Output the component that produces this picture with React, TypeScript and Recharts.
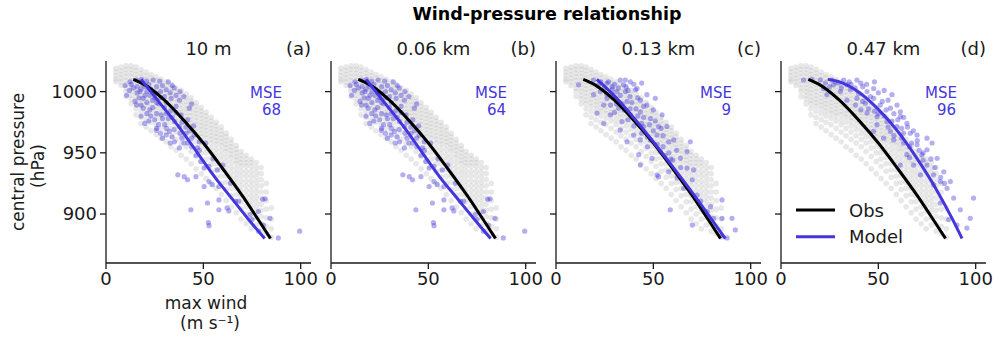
import React from "react";
import { ScatterChart, Scatter, XAxis, YAxis } from "recharts";

const FONT = "'DejaVu Sans', Verdana, sans-serif";
const BLUE = "#4436dc";
const INK = "#1a1a1a";

const PANEL_TITLES = ["10 m", "0.06 km", "0.13 km", "0.47 km"];
const PANEL_TAGS = ["(a)", "(b)", "(c)", "(d)"];
const PANEL_MSE = [68, 64, 9, 96];
const X_TICKS = [0, 50, 100];
const Y_TICKS = [900, 950, 1000];

// observed storms: wind column (m/s) -> central pressures (hPa)
const OBS_COLUMNS: [number, number[]][] = [
  [5.1, [1019, 1016, 1013, 1010, 1008]],
  [7.7, [1020, 1017, 1014, 1011, 1008, 1005]],
  [10.3, [1021, 1018, 1015, 1012, 1009, 1006, 1003, 1000, 996]],
  [12.9, [1021, 1018, 1015, 1012, 1009, 1006, 1003, 1000, 997, 994, 990]],
  [15.4, [1020, 1017, 1014, 1011, 1008, 1005, 1002, 999, 996, 993, 990, 986, 981]],
  [18.0, [1018, 1015, 1012, 1009, 1006, 1003, 1000, 997, 994, 991, 988, 984, 979, 974]],
  [20.6, [1016, 1013, 1010, 1007, 1004, 1001, 998, 995, 992, 989, 986, 982, 977, 971]],
  [23.1, [1014, 1011, 1008, 1005, 1002, 999, 996, 993, 990, 987, 984, 980, 975, 968]],
  [25.7, [1012, 1009, 1006, 1003, 1000, 997, 994, 991, 988, 985, 982, 978, 973, 965]],
  [28.3, [1010, 1007, 1004, 1001, 998, 995, 992, 989, 986, 983, 980, 976, 970, 962]],
  [30.9, [1008, 1005, 1002, 999, 996, 993, 990, 987, 984, 981, 977, 973, 967, 959]],
  [33.4, [1006, 1003, 1000, 997, 994, 991, 988, 985, 982, 979, 975, 970, 964, 955]],
  [36.0, [1003, 1000, 997, 994, 991, 988, 985, 982, 979, 976, 972, 967, 961, 952]],
  [38.6, [1001, 998, 995, 992, 989, 986, 983, 980, 977, 973, 969, 964, 958, 948]],
  [41.2, [998, 995, 992, 989, 986, 983, 980, 977, 974, 970, 966, 961, 955, 945]],
  [43.7, [995, 992, 989, 986, 983, 980, 977, 974, 971, 967, 963, 958, 951, 941]],
  [46.3, [991, 988, 985, 982, 979, 976, 973, 970, 967, 963, 959, 954, 947, 937]],
  [48.9, [987, 984, 981, 978, 975, 972, 969, 966, 963, 959, 955, 950, 943, 933]],
  [51.4, [983, 980, 977, 974, 971, 968, 965, 962, 958, 954, 950, 945, 939, 929]],
  [54.0, [979, 976, 973, 970, 967, 964, 961, 958, 954, 950, 946, 941, 935, 925]],
  [56.6, [975, 972, 969, 966, 963, 960, 957, 953, 949, 945, 941, 936, 930, 921]],
  [59.2, [971, 968, 965, 962, 959, 956, 952, 948, 944, 940, 936, 931, 925, 916]],
  [61.7, [966, 963, 960, 957, 954, 951, 947, 943, 939, 935, 931, 926, 920, 911]],
  [64.3, [961, 958, 955, 952, 949, 946, 942, 938, 934, 930, 926, 921, 915, 906]],
  [66.9, [956, 953, 950, 947, 944, 941, 937, 933, 929, 925, 921, 916, 910, 901]],
  [69.4, [951, 948, 945, 942, 939, 935, 931, 927, 923, 919, 915, 910, 904, 896]],
  [72.0, [948, 945, 942, 939, 935, 931, 927, 923, 919, 915, 911, 906, 900, 892]],
  [74.6, [945, 942, 939, 935, 931, 927, 923, 919, 915, 911, 907, 902, 896, 888]],
  [77.2, [942, 938, 934, 930, 926, 922, 918, 914, 910, 906, 902, 897, 891]],
  [79.7, [938, 933, 928, 923, 918, 913, 908, 903, 898, 892, 886]],
  [82.3, [925, 918, 911, 904, 897, 890, 884]],
  [84.9, [905, 896, 888, 881]],
];

// model storms, [wind, pressure]
const MODEL_10M: [number, number][] = [
  [9.8, 1005], [12.3, 1008], [15.7, 1009.5], [18.3, 1010], [20.8, 1008.5], [24.2, 1009.5], [27.6, 1008.5],
  [14, 1003], [17.4, 1000], [10.6, 997], [14.9, 992], [19.1, 994.5], [22.5, 997], [25.9, 998.5],
  [30.9, 1001.5], [33.5, 994.5], [37.7, 993], [15.7, 989], [19.1, 986.5], [22.5, 985], [19.9, 974],
  [25, 977], [28.4, 981], [30.1, 973], [25.9, 968.5], [30.9, 964.5], [32.6, 967.5], [35.2, 975.5],
  [38.6, 981], [42, 977], [42.8, 986.5], [37.7, 971.5], [41.1, 966], [35.2, 959], [37.7, 954],
  [42, 958], [45.3, 964.5], [47.9, 959], [51.2, 958], [46.2, 948], [48.7, 943], [50.4, 937.5],
  [40.2, 930.5], [41.9, 928], [46.2, 930.5], [52.9, 939], [57.2, 936], [52.9, 926.5], [58, 922.5],
  [63.9, 925], [52.1, 909], [58, 911.5], [58, 903.5], [62.2, 905], [43.6, 903.5], [52.6, 893],
  [52.9, 890.5], [66.5, 910.5], [74.1, 899.5], [75, 895.5], [78.3, 902], [81.7, 912.5], [84.2, 896.5],
  [80.9, 891], [78.3, 886], [88.5, 880.5], [99.5, 886], [68.2, 910.5], [80.5, 912], [63.1, 902.5],
  [36.9, 932], [50.4, 922.5], [54.6, 924], [20, 1004], [23, 1002], [26, 1004], [29, 1005], [32, 1008],
  [35, 1003], [21, 991], [24, 993], [27, 990], [30, 987], [33, 984], [36, 988], [40, 996], [44, 990],
  [28, 995], [17, 995], [23, 980], [27, 973], [32, 978], [35, 969], [39, 962], [44, 955], [48, 952],
  [55, 945], [60, 940], [45, 972], [33, 958], [29, 962],
  [12, 1001], [13, 1006], [16, 1004], [18, 1002], [19, 1006], [21, 1000], [22, 1006], [24, 1000],
  [25, 995], [26, 991], [28, 1000], [30, 996], [31, 991], [33, 999], [34, 1005], [36, 997], [38, 1000],
  [20, 997], [16, 999], [18, 989], [21, 982], [24, 987], [26, 982], [29, 978], [31, 982], [34, 979],
  [36, 983], [39, 975], [41, 971], [43, 968], [18, 980], [22, 976], [26, 970], [28, 966], [31, 970],
  [34, 963], [38, 966], [40, 958], [44, 962], [47, 954],
];

const MODEL_013KM: [number, number][] = [
  [11.6, 1005.5], [19.3, 1009.5], [26.2, 1007], [33, 1009.5], [35.6, 1009.5], [28.8, 1004], [31.3, 1000],
  [22.8, 1000], [19.3, 997.5], [26.2, 994.5], [35.6, 1000], [40.8, 1001.5], [36.5, 992], [32.2, 986.5],
  [24.5, 989], [21.1, 982.5], [24.5, 974], [27.9, 981], [33.9, 975.5], [38.2, 981], [43.3, 983.5],
  [46.7, 989], [48.5, 978], [54.5, 981], [52.7, 971.5], [45, 971.5], [39.9, 964.5], [33, 968.5],
  [36.5, 959], [43.3, 960.5], [42.5, 948.5], [48.5, 960.5], [51.9, 964.5], [57, 971.5], [57.9, 959],
  [60.5, 960.5], [53.6, 951], [49.3, 945.5], [43.3, 940], [51.9, 932], [57.9, 934.5], [63.9, 945.5],
  [67.3, 951], [69, 959], [67.3, 937.5], [70.7, 936], [52.7, 930.5], [62.2, 929.5], [65.6, 921],
  [70, 928], [72.5, 915.5], [74.3, 910.5], [79.4, 906], [85.3, 911.5], [58.7, 903.5], [70, 891],
  [81, 896.5], [85.3, 896.5], [90.4, 896.5], [92.1, 887], [87.9, 880.5], [84.5, 882], [77.7, 902],
  [34.7, 1005.5], [38.2, 1008], [41.6, 1002.5], [46.7, 997.5], [51, 994.5], [43.3, 993], [30.5, 994.5],
  [23, 1008], [29, 1002], [38, 996], [34, 990], [41, 986], [30, 983], [37, 977], [44, 974], [50, 968],
  [55, 964], [47, 955], [56, 948], [60, 944], [64, 938], [62, 952], [50, 985], [28, 989],
  [22, 1006], [25, 1003], [27, 1008], [30, 1006], [32, 1003], [36, 1004], [40, 1006], [44, 1007],
  [26, 998], [29, 998], [33, 997], [37, 1001], [39, 991], [42, 995], [45, 988], [31, 990], [35, 985],
  [38, 986], [42, 980], [45, 979], [48, 973], [51, 976], [54, 970], [40, 972], [44, 966], [47, 963],
  [52, 957], [55, 955], [58, 950], [59, 945],
];

const MODEL_047KM: [number, number][] = [
  [11.6, 1009.5], [15.9, 1010], [20.2, 1009.5], [22.8, 1007], [26.2, 1009.5], [29.6, 1007], [33.9, 1005.5],
  [39, 1009.5], [23.6, 997.5], [30.5, 1000], [35.6, 1001.5], [39.9, 998.5], [44.2, 1000], [33.9, 993],
  [38.2, 989], [43.3, 990.5], [47.6, 994.5], [51, 989], [56.2, 986.5], [59.6, 989], [61.3, 979.5],
  [49.3, 979.5], [44.2, 982.5], [54.4, 975.5], [59.6, 971.5], [64.7, 974], [66.4, 966], [47.6, 967.5],
  [52.7, 962], [57.9, 960.5], [63, 958], [69.9, 956.5], [75, 952.5], [77.6, 958], [72.4, 948.5],
  [64.7, 948.5], [61.3, 940], [68.1, 940], [75, 940], [71.6, 932], [78.4, 932], [81.9, 926.5],
  [85.3, 921], [88.7, 913], [81.9, 909], [92.1, 903.5], [97.2, 896.5], [98.9, 913], [95.5, 888.5],
  [90.4, 891], [86.1, 895.5], [78.4, 924], [63, 966], [56.2, 967.5], [49.3, 973], [21.9, 1002.5],
  [27, 1005.5], [32.2, 1009.5], [47.6, 1002.5], [39, 994.5], [57, 997.5], [61.3, 983.5], [69.9, 964.5],
  [75, 962], [80.2, 945.5], [83.6, 934.5], [87, 926.5], [36, 1006], [42, 1004], [46, 996], [52, 992],
  [41, 985], [48, 984], [53, 980], [57, 976], [62, 970], [67, 958], [71, 952], [73, 944], [66, 946],
  [25, 1004], [28, 1008], [31, 1003], [35, 1008], [38, 1003], [41, 1007], [44, 1006], [48, 1008],
  [50, 999], [53, 1001], [55, 993], [42, 992], [45, 986], [50, 982], [54, 985], [58, 982], [60, 977],
  [63, 979], [65, 971], [68, 968], [55, 971], [58, 964], [62, 962], [66, 955], [70, 960], [73, 950],
  [77, 945], [79, 938], [82, 930], [84, 925],
];

// fitted wind-pressure curves, [wind, pressure]
const OBS_FIT: [number, number][] = [
  [14, 1010], [20, 1005.5], [30, 993], [40, 976.5], [50, 958], [60, 937], [70, 915], [80, 891], [84.5, 880],
];
const FIT_10M: [number, number][] = [
  [18, 1010], [28, 990], [38, 970], [46.5, 951], [56, 930], [65, 912], [73, 896], [81.5, 880],
];
const FIT_006KM: [number, number][] = [
  [18, 1010], [28, 990], [38, 970], [46.5, 951], [56, 930], [65, 912.5], [73.5, 896], [82, 880],
];
const FIT_013KM: [number, number][] = [
  [21, 1010], [30, 996.5], [40, 978.5], [50, 959], [60, 938.5], [70, 917.5], [80, 895.5], [87, 880],
];
const FIT_047KM: [number, number][] = [
  [24, 1010], [30, 1008], [40, 999.5], [50, 985.5], [60, 967.5], [70, 945], [80, 919.5], [88, 896], [93, 880],
];

const toPoints = (pairs: [number, number][]) => pairs.map(([x, y]) => ({ x, y }));
const OBS_POINTS = OBS_COLUMNS.flatMap(([w, ps]) => ps.map((p) => ({ x: w, y: p })));

const PANELS = [
  { model: MODEL_10M, fit: FIT_10M },
  { model: MODEL_10M, fit: FIT_006KM },
  { model: MODEL_013KM, fit: FIT_013KM },
  { model: MODEL_047KM, fit: FIT_047KM },
];

const grayDot = (p: any) => <circle cx={p.cx} cy={p.cy} r={2.8} fill="#b8b8b8" fillOpacity={0.33} />;
const blueDot = (p: any) => <circle cx={p.cx} cy={p.cy} r={2.6} fill={BLUE} fillOpacity={0.4} />;
const noDot = () => <g />;

function Panel({ index }: { index: number }) {
  const { model, fit } = PANELS[index];
  const tickStyle = { fill: INK, fontSize: 18, fontFamily: FONT };
  return (
    <div style={{ position: "absolute", left: index * 225, top: 0 }}>
      <ScatterChart width={325} height={338} margin={{ top: 61, right: 14, bottom: 0, left: 0 }}>
        <XAxis
          type="number"
          dataKey="x"
          domain={[0, 105.3]}
          allowDataOverflow
          ticks={X_TICKS}
          height={75}
          tickSize={6}
          tickMargin={3}
          stroke={INK}
          strokeWidth={1.3}
          tick={tickStyle}
        />
        <YAxis
          type="number"
          dataKey="y"
          domain={[860, 1025]}
          allowDataOverflow
          ticks={Y_TICKS}
          width={106}
          tickSize={6}
          tickMargin={3}
          stroke={INK}
          strokeWidth={1.3}
          tick={tickStyle}
          tickFormatter={(v: number) => (index === 0 ? String(v) : "")}
        />
        <Scatter data={OBS_POINTS} shape={grayDot} isAnimationActive={false} />
        <Scatter data={toPoints(model)} shape={blueDot} isAnimationActive={false} />
        <Scatter
          data={toPoints(OBS_FIT)}
          shape={noDot}
          line={{ stroke: "#000", strokeWidth: 3 }}
          lineJointType="monotoneX"
          isAnimationActive={false}
        />
        <Scatter
          data={toPoints(fit)}
          shape={noDot}
          line={{ stroke: BLUE, strokeWidth: 3 }}
          lineJointType="monotoneX"
          isAnimationActive={false}
        />
      </ScatterChart>
    </div>
  );
}

export default function App() {
  return (
    <div style={{ position: "absolute", left: 0, top: 0, width: 995, height: 338, background: "#fff" }}>
      {PANELS.map((_, i) => (
        <Panel key={i} index={i} />
      ))}
      <svg
        width={995}
        height={338}
        style={{ position: "absolute", left: 0, top: 0, pointerEvents: "none" }}
        fontFamily={FONT}
      >
        <text x={547} y={20} textAnchor="middle" fontSize={17.5} fontWeight="bold" fill="#000">
          Wind-pressure relationship
        </text>
        {PANEL_TITLES.map((t, i) => (
          <g key={t}>
            <text x={208.5 + i * 225} y={55} textAnchor="middle" fontSize={18} fill={INK}>
              {t}
            </text>
            <text x={311 + i * 225} y={55} textAnchor="end" fontSize={18} fill={INK}>
              {PANEL_TAGS[i]}
            </text>
            <text x={282 + i * 225} y={98} textAnchor="end" fontSize={15} fill={BLUE}>
              <tspan x={282 + i * 225}>MSE</tspan>
              <tspan x={281 + i * 225} dy={17}>
                {PANEL_MSE[i]}
              </tspan>
            </text>
          </g>
        ))}
        {/* y label: two lines */}
        <text transform="translate(23.5,162) rotate(-90)" textAnchor="middle" fontSize={17} fill={INK}>
          <tspan x={0}>central pressure</tspan>
          <tspan x={-4} dy={20}>
            (hPa)
          </tspan>
        </text>
        {/* x label: two lines */}
        <text x={206} y={309} textAnchor="middle" fontSize={17} fill={INK}>
          <tspan x={206}>max wind</tspan>
          <tspan x={210} dy={20}>
            (m s⁻¹)
          </tspan>
        </text>
        <line x1={796} x2={835} y1={210} y2={210} stroke="#000" strokeWidth={3} />
        <line x1={796} x2={835} y1={236.7} y2={236.7} stroke={BLUE} strokeWidth={3} />
        <text x={849} y={216.5} fontSize={18} fill={INK}>
          Obs
        </text>
        <text x={849} y={243} fontSize={18} fill={INK}>
          Model
        </text>
      </svg>
    </div>
  );
}
